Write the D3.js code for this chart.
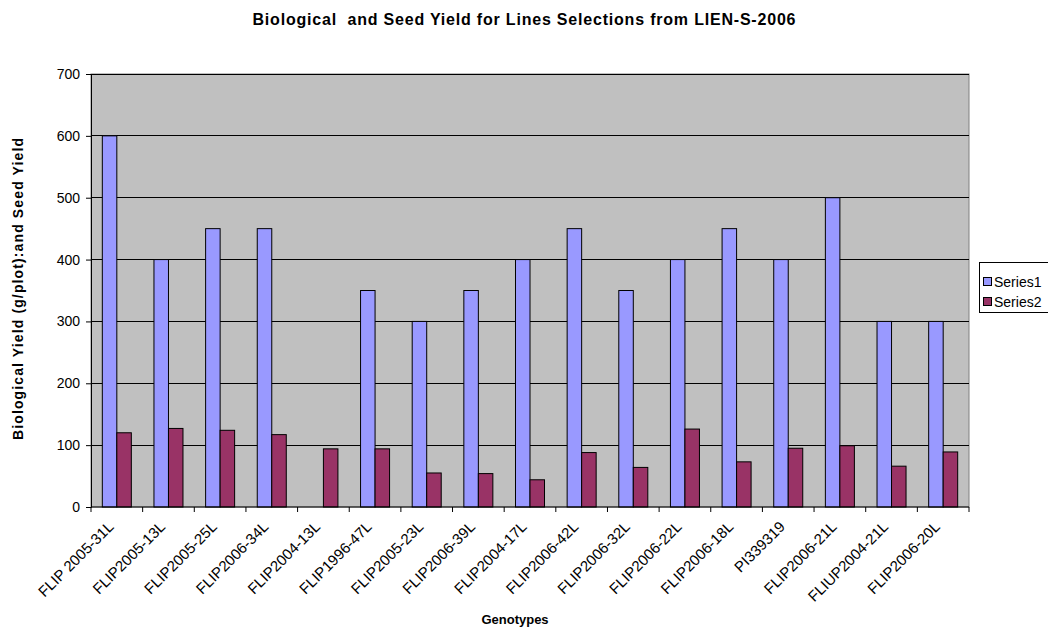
<!DOCTYPE html>
<html><head><meta charset="utf-8">
<script src="https://cdn.jsdelivr.net/npm/d3@7"></script>
<style>body{margin:0;background:#fff;} text{font-family:"Liberation Sans",Arial,sans-serif;}</style>
</head><body>
<svg id="c" width="1048" height="628"></svg>
<script>
const categories = ["FLIP 2005-31L","FLIP2005-13L","FLIP2005-25L","FLIP2006-34L","FLIP2004-13L","FLIP1996-47L","FLIP2005-23L","FLIP2006-39L","FLIP2004-17L","FLIP2006-42L","FLIP2006-32L","FLIP2006-22L","FLIP2006-18L","PI339319","FLIP2006-21L","FLIUP2004-21L","FLIP2006-20L"];
const series1 = [600,400,450,450,0,350,300,350,400,450,350,400,450,400,500,300,300];
const series2 = [120,127,124,117,94,94,55,54,44,88,64,126,73,95,99,66,89];
const seriesNames = ["Series1","Series2"];
const yTicks = [0,100,200,300,400,500,600,700];

const svg = d3.select("#c");
const L=91, R=969, T=74, B=507;
const x = d3.scaleBand().domain(categories).range([L,R]);
const inner = d3.scaleBand().domain(seriesNames).range([0, x.bandwidth()]).paddingInner(0).paddingOuter(0.78);
const y = d3.scaleLinear().domain([0,700]).range([B,T]);
const colors = {"Series1":"#9999ff","Series2":"#993366"};

svg.append("rect").attr("x",L).attr("y",T).attr("width",R-L).attr("height",B-T).attr("fill","#c0c0c0").attr("stroke","#808080");
svg.append("g").selectAll("line").data(yTicks.slice(1)).join("line")
  .attr("x1",L).attr("x2",R).attr("y1",d=>y(d)).attr("y2",d=>y(d)).attr("stroke","#000").attr("stroke-width",1).attr("shape-rendering","crispEdges");

const data = categories.map((c,i)=>({c, vals:[{s:"Series1",v:series1[i]},{s:"Series2",v:series2[i]}]}));
const g = svg.append("g").selectAll("g").data(data).join("g").attr("transform",d=>`translate(${x(d.c)},0)`);
g.selectAll("rect").data(d=>d.vals.filter(e=>e.v>0)).join("rect")
  .attr("x",d=>inner(d.s)).attr("width",inner.bandwidth())
  .attr("y",d=>y(d.v)).attr("height",d=>B-y(d.v))
  .attr("fill",d=>colors[d.s]).attr("stroke","#000").attr("stroke-width",1);

// y axis
const ya = svg.append("g").attr("transform",`translate(${L},0)`).call(d3.axisLeft(y).tickValues(yTicks).tickSize(5).tickPadding(6));
ya.select(".domain").attr("stroke","#000");
ya.selectAll("text").style("font-size","14px").attr("fill","#000");
// x axis
const xa = svg.append("g").attr("transform",`translate(0,${B})`);
xa.append("line").attr("x1",L).attr("x2",R).attr("stroke","#000");
xa.selectAll(".tk").data(d3.range(categories.length+1)).join("line")
  .attr("x1",i=>L+i*x.step()).attr("x2",i=>L+i*x.step()).attr("y1",0).attr("y2",5).attr("stroke","#000");
xa.selectAll("text").data(categories).join("text")
  .attr("transform",d=>`translate(${x(d)+x.bandwidth()/2-6},${17}) rotate(-45)`)
  .attr("text-anchor","end").attr("dy","0.35em").style("font-size","15px").text(d=>d);

svg.append("text").attr("x",524).attr("y",25).attr("text-anchor","middle").style("font-size","16px").style("font-weight","bold")
  .attr("textLength",543).attr("lengthAdjust","spacing")
  .text("Biological  and Seed Yield for Lines Selections from LIEN-S-2006").attr("xml:space","preserve");
svg.append("text").attr("transform","translate(23,289) rotate(-90)").attr("text-anchor","middle").style("font-size","14px").style("font-weight","bold")
  .attr("textLength",302).attr("lengthAdjust","spacing")
  .text("Biological Yield (g/plot):and Seed Yield");
svg.append("text").attr("x",515).attr("y",624).attr("text-anchor","middle").style("font-size","13px").style("font-weight","bold").text("Genotypes");

// legend
const lg = svg.append("g");
lg.append("rect").attr("x",979.5).attr("y",262.5).attr("width",80).attr("height",50).attr("fill","#fff").attr("stroke","#000");
seriesNames.forEach((s,i)=>{
  lg.append("rect").attr("x",983.5).attr("y",277.5+i*20).attr("width",8).attr("height",8).attr("fill",colors[s]).attr("stroke","#000");
  lg.append("text").attr("x",994).attr("y",287+i*20).style("font-size","14px").text(s);
});
</script>
</body></html>
